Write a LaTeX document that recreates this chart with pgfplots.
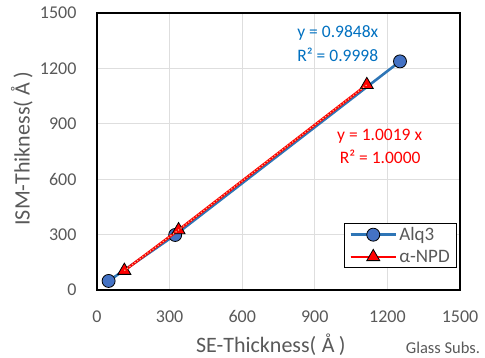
\documentclass[border=0pt]{standalone}
\usepackage{pgfplots}
\pgfplotsset{compat=1.18}
\usepackage{fontspec}
\setmainfont{Carlito}
\definecolor{tickgray}{HTML}{595959}
\definecolor{xlblue}{HTML}{2E75B6}
\definecolor{mkblue}{HTML}{4472C4}
\definecolor{eqblue}{HTML}{0070C0}
\definecolor{dotor}{HTML}{F4B183}
\begin{document}
\begin{tikzpicture}
\useasboundingbox (-97pt,-68pt) rectangle (388pt,290pt);
\begin{axis}[
  scale only axis, width=363pt, height=277pt,
  clip mode=individual,
  xmin=0, xmax=1500, ymin=0, ymax=1500,
  xtick={0,300,...,1500}, ytick={0,300,...,1500},
  grid=major, grid style={draw=black!13, line width=1pt},
  axis line style={black, line width=1.1pt},
  tick style={draw=none},
  /pgf/number format/assume math mode=true,
  /pgf/number format/1000 sep={},
  ticklabel style={font=\fontsize{18}{20}\selectfont, text=tickgray},
  xticklabel style={yshift=-17pt},
  yticklabel style={xshift=-17pt},
  xlabel={SE-Thickness(\hspace{0.25em}Å\hspace{0.2em})},
  ylabel={ISM-Thikness(\hspace{0.25em}Å\hspace{0.2em})},
  label style={font=\fontsize{22}{24}\selectfont, text=tickgray},
  xlabel style={at={(axis description cs:0.479,-0.198)}, anchor=center},
  ylabel style={at={(axis description cs:-0.207,0.511)}, anchor=center, rotate=0},
  legend style={at={(axis description cs:0.992,0.079)}, anchor=south east,
    draw=black, line width=0.8pt, font=\fontsize{19}{21}\selectfont, text=tickgray,
    inner xsep=5pt, inner ysep=2pt, row sep=4pt},
  legend cell align=left,
  legend image code/.code={
    \draw[#1] (0cm,0cm) -- (1.6cm,0cm);
    \draw[#1,mark repeat=2,mark phase=2] plot coordinates {(0cm,0cm) (0.8cm,0cm) (1.6cm,0cm)};
  },
]
\addplot[color=xlblue, line width=2.6pt, mark=*, mark size=6.5pt,
  mark options={fill=mkblue, draw=black, line width=0.8pt}]
  coordinates {(48,49) (323,298) (1252,1238)};
\addlegendentry{Alq3}
\addplot[color=red, line width=2.6pt, mark=triangle*, mark size=7.5pt,
  mark options={fill=red, draw=black, line width=0.8pt}]
  coordinates {(113,105) (337,325) (1115,1111)};
\addlegendentry{α-NPD}
\addplot[color=dotor, line width=1.2pt, dotted, forget plot]
  coordinates {(113,105) (337,325) (1115,1111)};
\node[text=eqblue, font=\fontsize{17.5}{19}\selectfont] at (axis cs:995,1392) {y = 0.9848x};
\node[text=eqblue, font=\fontsize{17.5}{19}\selectfont] at (axis cs:995,1273) {R² = 0.9998};
\node[text=red, font=\fontsize{17.5}{19}\selectfont] at (axis cs:1168,834) {y = 1.0019 x};
\node[text=red, font=\fontsize{17.5}{19}\selectfont] at (axis cs:1170,720) {R² = 1.0000};
\node[text=tickgray, font=\fontsize{16.5}{18}\selectfont] at (axis description cs:0.953,-0.208) {Glass Subs.};
\end{axis}
\end{tikzpicture}
\end{document}
